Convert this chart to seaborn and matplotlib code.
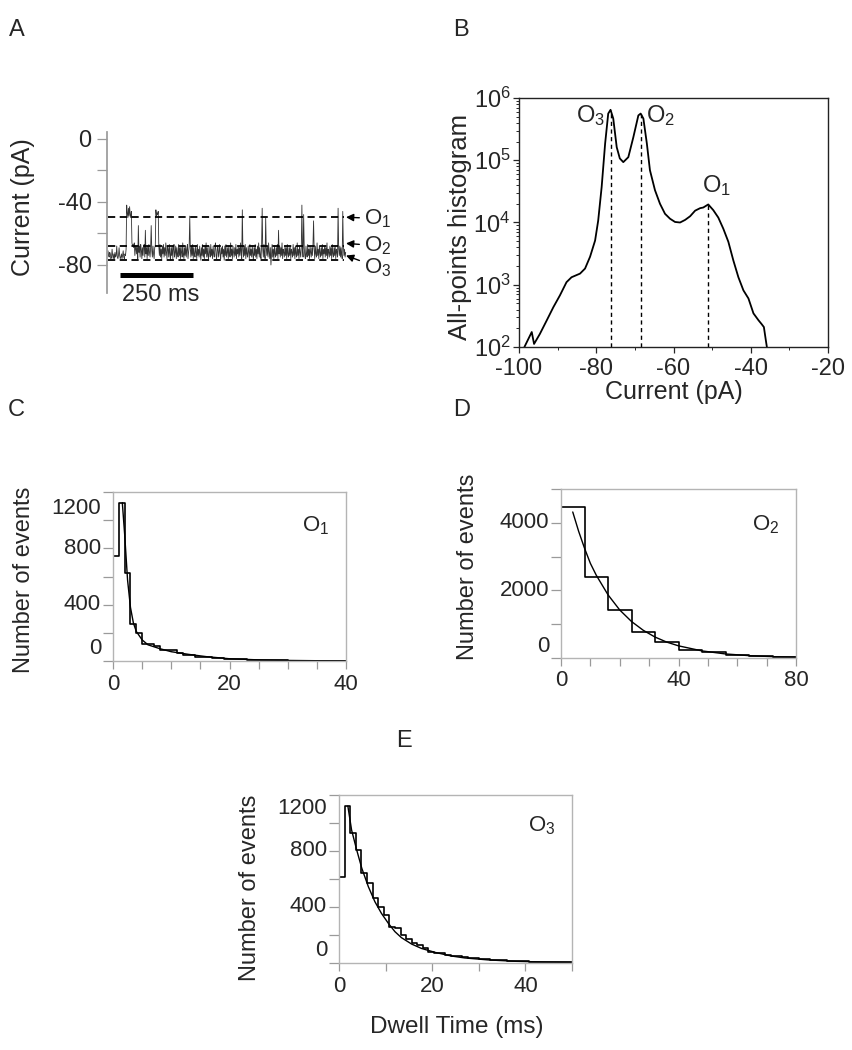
import numpy as np
import matplotlib
matplotlib.use("Agg")
import matplotlib.pyplot as plt
import matplotlib.ticker as mticker
import matplotlib.transforms as mtransforms
import seaborn as sns

W, H = 852, 1050

# ---------------- data ----------------
# A: single channel current trace, one sample every 2 ms
trace_dt_ms = 2
trace_pA = [
    -71, -74, -75, -72, -73, -76, -75, -70, -74, -76, -73, -76, -72, -75, -74, -68, -75, -76, -74, -69,
    -74, -76, -75, -73, -76, -74, -71, -75, -76, -73, -74, -70, -42, -47, -50, -44, -49, -43, -48, -50,
    -46, -66, -68, -67, -69, -66, -74, -70, -68, -73, -69, -76, -55, -72, -68, -75, -67, -70, -76, -69,
    -74, -68, -67, -75, -58, -73, -69, -76, -68, -74, -67, -72, -75, -69, -55, -71, -75, -68, -73, -76,
    -69, -68, -45, -49, -47, -48, -46, -68, -74, -67, -75, -70, -76, -68, -73, -67, -75, -69, -74, -66,
    -72, -76, -68, -70, -75, -67, -73, -77, -69, -74, -68, -76, -70, -67, -75, -72, -68, -76, -69, -73,
    -75, -67, -74, -69, -76, -68, -72, -75, -66, -73, -76, -69, -74, -68, -75, -70, -67, -76, -72, -68,
    -49, -70, -75, -68, -74, -67, -76, -69, -73, -75, -68, -72, -76, -67, -74, -70, -75, -68, -73, -77,
    -69, -74, -67, -75, -70, -76, -68, -73, -66, -75, -69, -74, -76, -68, -72, -75, -67, -74, -70, -76,
    -68, -73, -75, -69, -66, -74, -76, -70, -68, -75, -72, -67, -74, -76, -69, -73, -68, -75, -70, -77,
    -68, -74, -67, -75, -72, -69, -76, -68, -73, -75, -66, -74, -70, -76, -68, -72, -75, -69, -74, -67,
    -76, -70, -73, -68, -75, -69, -74, -66, -72, -76, -45, -70, -75, -68, -74, -67, -76, -69, -73, -75,
    -68, -72, -76, -67, -74, -70, -75, -68, -73, -77, -69, -74, -67, -75, -70, -76, -68, -73, -66, -75,
    -69, -74, -76, -68, -44, -70, -75, -67, -73, -76, -50, -69, -74, -68, -75, -66, -72, -76, -69, -80,
    -74, -67, -75, -70, -76, -68, -73, -75, -69, -74, -67, -76, -58, -73, -68, -75, -69, -74, -66, -76,
    -70, -72, -75, -68, -74, -69, -76, -67, -73, -75, -69, -74, -68, -76, -70, -72, -75, -67, -74, -69,
    -76, -68, -73, -75, -66, -74, -70, -76, -68, -72, -75, -69, -42, -70, -75, -48, -69, -74, -76, -68,
    -73, -75, -67, -74, -70, -76, -68, -72, -75, -69, -74, -67, -52, -70, -76, -68, -73, -75, -66, -74,
    -70, -76, -68, -72, -75, -69, -74, -67, -76, -70, -73, -68, -75, -69, -74, -66, -76, -70, -72, -75,
    -68, -74, -69, -76, -67, -73, -75, -69, -74, -68, -76, -70, -72, -75, -44, -70, -74, -68, -75, -69,
    -73, -76, -46, -68, -74, -70, -75, -72,
]
level_names = ["O$_1$", "O$_2$", "O$_3$"]
level_pA = [-49.7, -67.7, -76.8]

# B: all-points histogram
aph_current = [-98.6, -96.7, -96.1, -94.6, -92.8, -91.1, -89.4, -87.7, -86.4, -84.2, -82.9,
               -81.6, -80.3, -79.5, -78.6, -77.7, -76.9, -76.3, -75.6, -74.7, -73.9, -73.0,
               -71.7, -70.4, -69.1, -68.5, -67.8, -66.9, -66.1, -64.8, -63.5, -62.2, -60.9,
               -59.6, -58.3, -57.0, -55.7, -54.4, -53.1, -52.3, -51.0, -49.7, -48.4, -47.1,
               -45.8, -44.5, -43.2, -41.9, -40.6, -39.3, -38.0, -37.2, -36.6, -36.1, -35.7]
aph_count = [100, 174, 112, 162, 269, 437, 676, 1100, 1320, 1510, 1820,
             2820, 5130, 10700, 37200, 186000, 562000, 646000, 468000, 162000, 107000, 93300,
             112000, 234000, 525000, 562000, 468000, 186000, 69200, 33100, 20000, 13800, 11500,
             10200, 10000, 11000, 12600, 15500, 17000, 17400, 19500, 15800, 12000, 7940,
             4900, 2450, 1320, 813, 603, 347, 269, 234, 209, 129, 89]
peak_names = ["O$_3$", "O$_2$", "O$_1$"]
peak_current = [-76.3, -68.5, -51.0]
peak_count = [646000, 562000, 19500]

# C: O1 dwell times (1 ms bins)
o1_counts = [745, 1124, 627, 263, 201, 121, 121, 109, 78, 78, 78, 54, 43, 43, 31, 31, 31, 19, 19, 17,
             15, 13, 11, 9, 8, 7, 6, 5, 4, 4, 3, 3, 2, 2, 2, 1, 1, 1, 1, 0]
o1_fit_t = [1.6, 2.0, 2.5, 3.0, 3.5, 4.0, 5.0, 6.0, 8.0, 10, 13, 16, 20, 25, 30, 35, 40]
o1_fit_n = [1124, 900, 575, 380, 270, 210, 150, 115, 88, 66, 47, 31, 16, 8, 4, 2, 1]

# D: O2 dwell times (8 ms bins)
o2_counts = [4470, 2400, 1410, 770, 470, 250, 170, 100, 60, 30]
o2_fit_t = [4, 6, 8, 10, 12, 16, 20, 24, 28, 32, 36, 40, 48, 56, 64, 72, 80]
o2_fit_n = [4320, 3750, 3250, 2800, 2450, 1870, 1420, 1080, 820, 620, 470, 360, 210, 120, 70, 40, 25]

# E: O3 dwell times (1.2 ms bins)
o3_counts = [612, 1121, 931, 807, 640, 569, 462, 402, 343, 260, 248, 200, 169, 140, 129, 105, 81,
             75, 68, 60, 52, 47, 42, 38, 33, 30, 26, 23, 20, 18, 16, 14, 12, 11, 10, 9, 8, 7, 6, 5, 5, 4]
o3_fit_t = [1.9, 2.7, 3.8, 4.9, 6.3, 7.7, 9.1, 10.6, 12, 13.4, 15.6, 17.7, 20.6, 24.1, 27, 32, 38, 44, 50]
o3_fit_n = [1121, 950, 807, 676, 545, 438, 355, 283, 224, 181, 135, 104, 76, 50, 36, 22, 12, 7, 4]

# ---------------- style ----------------
sns.set_theme(style="white")
plt.rcParams["font.family"] = ["Liberation Sans", "DejaVu Sans"]
plt.rcParams["mathtext.default"] = "regular"
plt.rcParams["axes.unicode_minus"] = False

fig = plt.figure(figsize=(W / 100, H / 100), dpi=100)


def axes_px(l, t, r, b):
    return fig.add_axes([l / W, 1 - b / H, (r - l) / W, (b - t) / H])


def ftext(x, y, s, **kw):
    fig.text(x / W, 1 - y / H, s, **kw)


GRAY = "#9a9a9a"

# ---------------- A ----------------
axA = axes_px(107, 132, 400, 293)
t = np.arange(len(trace_pA)) * trace_dt_ms
sns.lineplot(x=t, y=trace_pA, color="#333333", lw=0.6, ax=axA, estimator=None, sort=False)
ms_per_px = 250 / 73
t_end = (346 - 108) * ms_per_px
for name, lv in zip(level_names, level_pA):
    axA.hlines(lv, 0, t_end - 8, colors="black", linestyles=(0, (4, 2.5)), lw=1.3)
arrow_kw = dict(arrowstyle="-|>", color="black", lw=1.0, mutation_scale=11, shrinkA=1, shrinkB=0)
text_t = (364 - 108) * ms_per_px
axA.annotate(level_names[0], xy=(t_end, level_pA[0]), xytext=(text_t, -50.5), fontsize=16,
             va="center", ha="left", arrowprops=arrow_kw, annotation_clip=False)
axA.annotate(level_names[1], xy=(t_end, -66.3), xytext=(text_t, -67.8), fontsize=16,
             va="center", ha="left", arrowprops=arrow_kw, annotation_clip=False)
axA.annotate(level_names[2], xy=(t_end, -74.0), xytext=(text_t, -81.5), fontsize=16,
             va="center", ha="left", arrowprops=arrow_kw, annotation_clip=False)
axA.hlines(-86.3, 41, 291, colors="black", lw=3.6, clip_on=False)
axA.text(47, -98.8, "250 ms", fontsize=17, ha="left", va="center", clip_on=False)
axA.set_xlim(-3.4, 1000)
axA.set_ylim(-97.8, 4.4)
axA.set_yticks([-80, -40, 0])
axA.set_yticks([-60, -20], minor=True)
axA.set_xticks([])
for s in ["top", "right", "bottom"]:
    axA.spines[s].set_visible(False)
axA.spines["left"].set_color(GRAY)
axA.tick_params(axis="y", which="both", direction="out", left=True, length=7, width=0.9,
                color=GRAY, labelsize=17, pad=4)
axA.set_xlabel("")
axA.set_ylabel("")
ftext(23, 207, "Current (pA)", rotation=90, fontsize=18, ha="center", va="center")

# ---------------- B ----------------
axB = axes_px(519, 98, 828, 347)
sns.lineplot(x=aph_current, y=aph_count, color="black", lw=1.3, ax=axB, estimator=None, sort=False)
axB.set_yscale("log")
axB.vlines(peak_current, 100, peak_count, colors="black", linestyles=(0, (3, 2.5)), lw=1.0)
axB.set_xlim(-100, -20)
axB.set_ylim(1e2, 1e6)
axB.set_xticks([-100, -80, -60, -40, -20])
axB.xaxis.set_minor_locator(mticker.MultipleLocator(10))
axB.yaxis.set_major_locator(mticker.LogLocator(base=10, numticks=10))
axB.yaxis.set_minor_locator(mticker.LogLocator(base=10, subs=np.arange(2, 10), numticks=10))
axB.yaxis.set_minor_formatter(mticker.NullFormatter())
for s in axB.spines.values():
    s.set_color("#222222")
    s.set_linewidth(1.0)
axB.tick_params(axis="both", which="major", direction="out", bottom=True, left=True,
                length=4, width=0.9, labelsize=17)
axB.tick_params(axis="x", which="major", pad=4)
axB.tick_params(axis="y", which="major", pad=2)
axB.tick_params(axis="both", which="minor", direction="out", bottom=True, left=True,
                length=2.5, width=0.7)
axB.set_xlabel("")
axB.set_ylabel("")
ftext(460, 227, "All-points histogram", rotation=90, fontsize=18.5, ha="center", va="center")
ftext(674, 392, "Current (pA)", fontsize=18, ha="center", va="center")
ftext(576, 122, peak_names[0], fontsize=17, ha="left", va="baseline")
ftext(646, 122, peak_names[1], fontsize=17, ha="left", va="baseline")
ftext(702, 192, peak_names[2], fontsize=17, ha="left", va="baseline")


# ---------------- C, D, E ----------------
def hist_panel(rect, counts, bw, fit_t, fit_n, xmax, ymax, xmaj, xminor, ymaj, yminor,
               name, name_xy, label_shift):
    ax = axes_px(*rect)
    n = len(counts)
    centers = np.arange(n) * bw + bw / 2
    sns.histplot(x=centers, weights=np.asarray(counts, dtype=float), binwidth=bw,
                 binrange=(0, n * bw), element="step", fill=False,
                 color="black", linewidth=1.2, ax=ax)
    ax.vlines(0, 0, counts[0], colors="black", lw=1.2)
    sns.lineplot(x=fit_t, y=fit_n, color="black", lw=1.0, ax=ax, estimator=None, sort=False)
    ax.set_xlim(0, xmax)
    ax.set_ylim(0, ymax)
    ax.set_xticks(xmaj)
    ax.xaxis.set_minor_locator(mticker.MultipleLocator(xminor))
    ax.set_yticks(ymaj)
    ax.yaxis.set_minor_locator(mticker.MultipleLocator(yminor))
    ax.set_yticklabels([])
    for s in ax.spines.values():
        s.set_color("#b4b4b4")
        s.set_linewidth(1.0)
    ax.tick_params(axis="x", which="both", direction="out", bottom=True, length=6, width=0.9,
                   color=GRAY, labelsize=16, pad=3)
    ax.tick_params(axis="y", which="both", direction="out", left=True, length=7, width=0.9,
                   color=GRAY)
    for v in ymaj:
        dy = label_shift.get(v, 0)
        tr = mtransforms.offset_copy(ax.get_yaxis_transform(), fig=fig, x=-12, y=dy, units="dots")
        ax.text(0, v, f"{v}", transform=tr, ha="right", va="center", fontsize=16)
    ax.set_xlabel("")
    ax.set_ylabel("")
    ftext(name_xy[0], name_xy[1], name, fontsize=16, ha="left", va="baseline")
    return ax


hist_panel((113, 492, 346, 661), o1_counts, 1, o1_fit_t, o1_fit_n, 40, 1200,
           [0, 20, 40], 5, [0, 400, 800, 1200], 200, "O$_1$", (302, 531), {0: 12, 1200: -16})
ftext(24, 580, "Number of events", rotation=90, fontsize=17, ha="center", va="center")

hist_panel((561, 489, 796, 658), o2_counts, 8, o2_fit_t, o2_fit_n, 80, 5000,
           [0, 40, 80], 10, [0, 2000, 4000], 1000, "O$_2$", (752, 530), {0: 11})
ftext(468, 567, "Number of events", rotation=90, fontsize=17, ha="center", va="center")

hist_panel((339, 795, 572, 963), o3_counts, 1.2, o3_fit_t, o3_fit_n, 50, 1200,
           [0, 20, 40], 10, [0, 400, 800, 1200], 200, "O$_3$", (528, 831), {0: 12, 1200: -13})
ftext(250, 888, "Number of events", rotation=90, fontsize=17, ha="center", va="center")
ftext(457, 1027, "Dwell Time (ms)", fontsize=17.5, ha="center", va="center")

# panel letters
for letter, x, y in [("A", 17, 30), ("B", 461, 30), ("C", 16, 410), ("D", 462, 410), ("E", 404, 741)]:
    ftext(x, y, letter, fontsize=17, ha="center", va="center")

fig.savefig("out.png", dpi=100)
